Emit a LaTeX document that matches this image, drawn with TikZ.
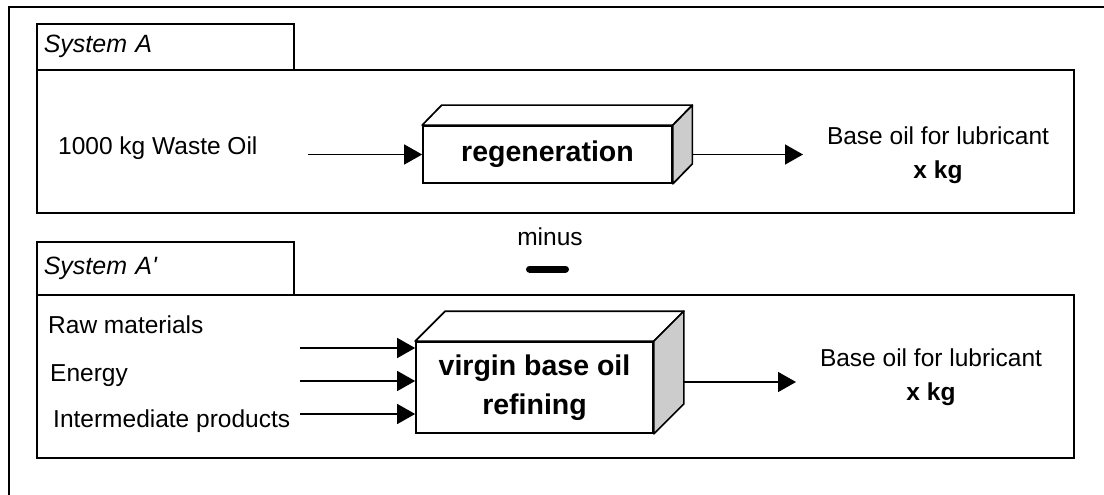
\documentclass[tikz,border=0pt]{standalone}
\usepackage{fontspec}
\setmainfont{Liberation Sans}
\usetikzlibrary{arrows.meta}

\definecolor{sidegray}{gray}{0.8}

\tikzset{
  sysbox/.style={draw, line width=1.6pt, minimum width=257pt, text width=243pt,
    align=left, inner xsep=7pt, font=\itshape\fontsize{25}{30}\selectfont},
  mainbox/.style={draw, line width=1.6pt, minimum width=1037pt},
  procbox/.style={draw, line width=1.7pt, fill=white, align=center,
    font=\bfseries\fontsize{28.5}{39}\selectfont},
  face/.style={line width=1.7pt, line join=round},
  flow/.style={-{Triangle[length=18pt, width=20pt]}, line width=1.4pt},
  txt/.style={inner sep=0pt, font=\fontsize{24.5}{34}\selectfont},
}

\begin{document}
\begin{tikzpicture}[x=1pt, y=-1pt]
    \useasboundingbox (0,0) rectangle (1104,495);

    % --- outer frame (only top and left edge visible) ---
    \draw[line width=1.4pt] (9,495) -- (9,7) -- (1104,7);

    % --- System A : regeneration ---
    \node[sysbox, anchor=north west, minimum height=46pt] (sysA) at (36,23) {System A};
    \node[mainbox, anchor=north west, minimum height=143pt] (boxA) at (36,69) {};

    % front face of the block, then top and side
    \node[procbox, minimum width=249pt, minimum height=57pt] (reg) at (547.5,154.5) {regeneration};
    \path (reg.north east) ++(19.5,-20) coordinate (reg-ne);
    \path (reg.south east) ++(19.5,-20) coordinate (reg-se);
    \draw[face, fill=white] (reg.north west) -- ++(19.5,-20) -- (reg-ne) -- (reg.north east) -- cycle;
    \draw[face, fill=sidegray] (reg.north east) -- (reg-ne) -- (reg-se) -- (reg.south east) -- cycle;

    % input and output
    \node[txt, anchor=base west] (waste) at (58,154) {1000 kg Waste Oil};
    \coordinate (wasteIn) at (308,154.5);
    \draw[flow] (wasteIn) -- (reg.west);

    \coordinate (regOut) at (803,154.5);
    \draw[flow] (reg-ne |- reg.east) -- (regOut);
    % base anchor sits on the last line
    \node[txt, align=center, anchor=base] (prodA) at (938,178) {Base oil for lubricant\\\textbf{x kg}};

    % --- minus sign between the systems ---
    \node[txt, anchor=base] (minus) at (550,245) {minus};
    \draw[line width=7pt, line cap=round] (529.5,269) -- (565.5,269);

    % --- System A' : virgin base oil refining ---
    \node[sysbox, anchor=north west, minimum height=53pt] (sysB) at (36,241) {System A\textquotesingle};
    \node[mainbox, anchor=north west, minimum height=163pt] (boxB) at (36,294) {};

    \node[procbox, minimum width=237pt, minimum height=91pt] (ref) at (534.5,387.5) {virgin base oil\\refining};
    \path (ref.north east) ++(30,-30) coordinate (ref-ne);
    \path (ref.south east) ++(30,-30) coordinate (ref-se);
    \draw[face, fill=white] (ref.north west) -- ++(30,-30) -- (ref-ne) -- (ref.north east) -- cycle;
    \draw[face, fill=sidegray] (ref.north east) -- (ref-ne) -- (ref-se) -- (ref.south east) -- cycle;

    % three inputs
    \node[txt, anchor=base west] (raw) at (48,333) {Raw materials};
    \node[txt, anchor=base west] (energy) at (50,381) {Energy};
    \node[txt, anchor=base west] (inter) at (53,427) {Intermediate products};
    \coordinate (rawIn) at (300,348);
    \coordinate (energyIn) at (300,381);
    \coordinate (interIn) at (300,414);
    \draw[flow] (rawIn) -- (rawIn -| ref.west);
    \draw[flow] (energyIn) -- (energyIn -| ref.west);
    \draw[flow] (interIn) -- (interIn -| ref.west);

    % output
    \coordinate (refOut) at (796,382);
    \draw[flow] (ref-ne |- refOut) -- (refOut);
    \node[txt, align=center, anchor=base] (prodB) at (931,400) {Base oil for lubricant\\\textbf{x kg}};

\end{tikzpicture}
\end{document}
